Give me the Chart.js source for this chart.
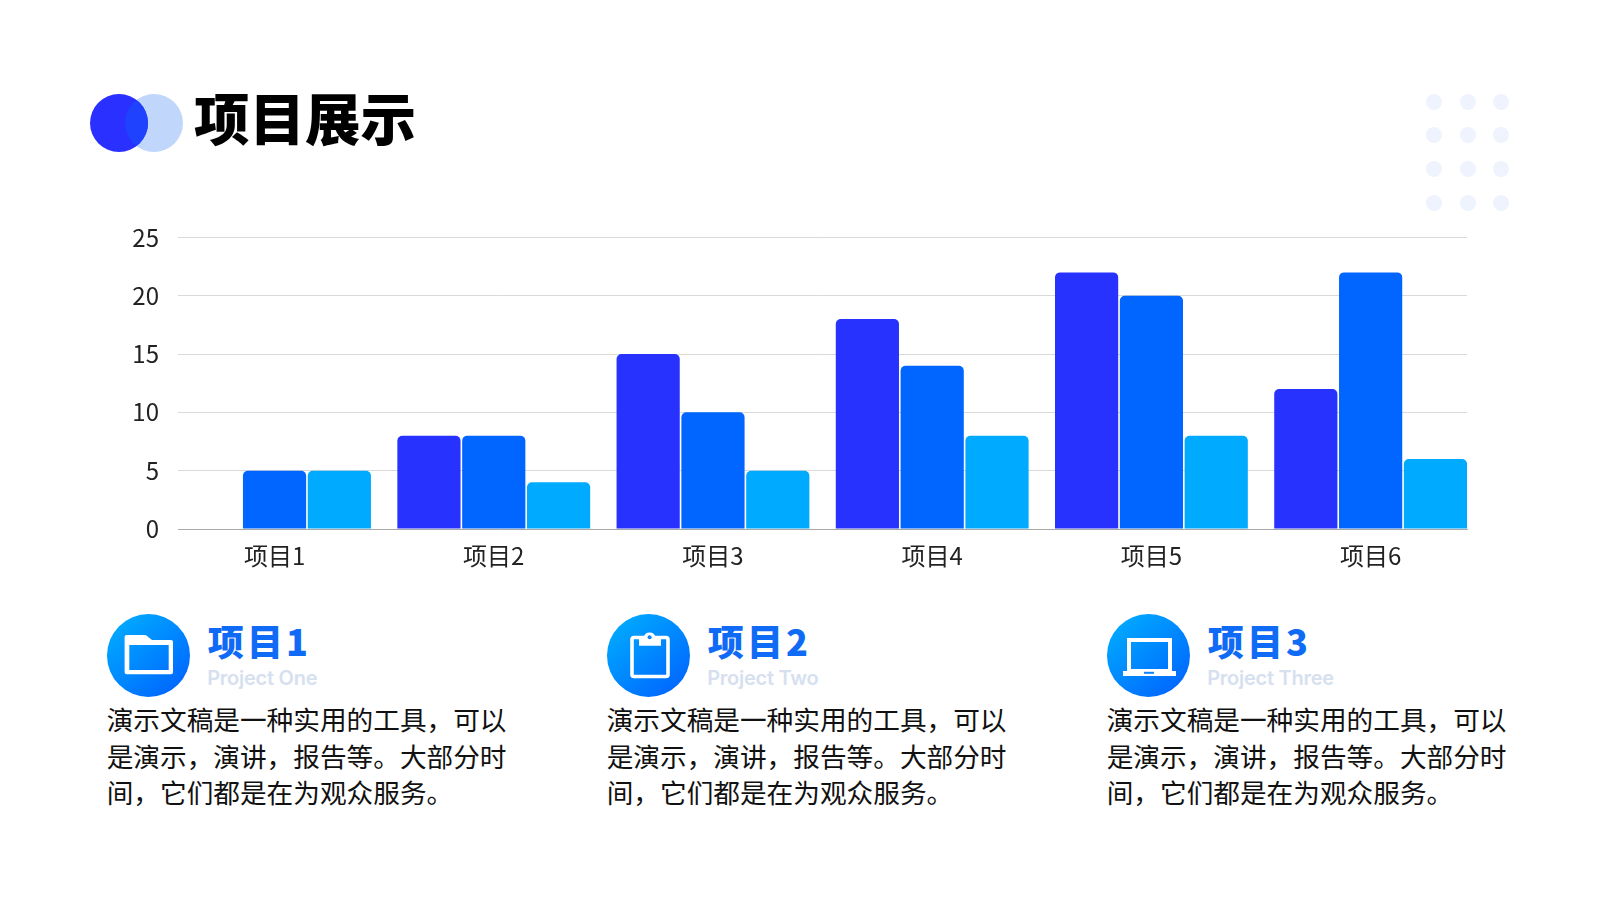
<!DOCTYPE html>
<html lang="zh">
<head>
<meta charset="utf-8">
<title>项目展示</title>
<script src="https://cdn.jsdelivr.net/npm/chart.js@4/dist/chart.umd.min.js"></script>
<style>
  html, body { margin: 0; padding: 0; background: #fff; }
  body { width: 1600px; height: 900px; position: relative; overflow: hidden; font-family: "Noto Sans CJK SC", sans-serif; }
  .abs { position: absolute; }
  .title { left: 194px; top: 78px; font-size: 55.5px; line-height: 76px; font-weight: 900; color: #000; white-space: nowrap; }
  .chart-wrap { left: 100px; top: 204px; width: 1400px; height: 396px; }
  .card { top: 614px; width: 420px; height: 220px; }
  .badge { left: 0; top: 0; width: 83px; height: 83px; }
  .card-title { left: 101px; top: 2px; font-size: 36px; line-height: 48px; font-weight: 900; letter-spacing: 3.2px; color: #0f6bf5; white-space: nowrap; }
  .card-sub { left: 100.5px; top: 50px; font-family: Inter, sans-serif; font-size: 20px; line-height: 28px; font-weight: 600; color: #d6e0ef; white-space: nowrap; letter-spacing: -0.25px; }
  .card-body { left: 0; top: 87px; font-size: 26.67px; line-height: 36.7px; color: #111; white-space: nowrap; }
</style>
</head>
<body>
<svg class="abs" style="left:0;top:0" width="1600" height="900">
  <defs><clipPath id="dark"><circle cx="119" cy="123" r="29"/></clipPath></defs>
  <circle cx="154" cy="123" r="29" fill="#c0d6fb"/>
  <circle cx="119" cy="123" r="29" fill="#2a30ff"/>
  <circle cx="154" cy="123" r="29" fill="#1f42ff" clip-path="url(#dark)"/>
  <g id="dots" fill="#eef3fd"></g>
</svg>
<div class="abs title">项目展示</div>
<div class="abs chart-wrap"><canvas id="chart"></canvas></div>
<div id="cards"></div>

<script>
// chart data
const categories = ['项目1', '项目2', '项目3', '项目4', '项目5', '项目6'];
const seriesA = [null, 8, 15, 18, 22, 12];
const seriesB = [5, 8, 10, 14, 20, 22];
const seriesC = [5, 4, 5, 8, 8, 6];
const colors = ['#2832ff', '#0066ff', '#00aaff'];

// text blocks under the chart
const cardTitles = ['项目1', '项目2', '项目3'];
const cardSubs = ['Project One', 'Project Two', 'Project Three'];
const cardLines = ['演示文稿是一种实用的工具，可以', '是演示，演讲，报告等。大部分时', '间，它们都是在为观众服务。'];

const icons = [
  '<path fill-rule="evenodd" fill="#fff" d="M17.6 23 a2 2 0 0 1 2-2 H38 a3 3 0 0 1 2 1 L45 26 H64 a2 2 0 0 1 2 2 V58.300 a2 2 0 0 1-2 2 H19.600 a2 2 0 0 1-2-2 Z M22.300 31 V56 H61.700 V31 Z"/>',
  '<rect x="25" y="23.500" width="36" height="39" rx="2" fill="none" stroke="#fff" stroke-width="3.6"/><path d="M32 23.500 V31.700 H54 V23.500 H48.500 a6 6 0 0 0-11.800 0 Z" fill="#fff"/><circle cx="42.600" cy="23.300" r="2" fill="#0a84ff"/>',
  '<rect x="22" y="26" width="41" height="31" fill="none" stroke="#fff" stroke-width="4"/><rect x="16" y="57" width="53" height="5" fill="#fff"/><rect x="37" y="57.800" width="10" height="2" fill="#0a84ff"/>'
];

// decoration dots, top right
const dotXs = [1434, 1468, 1501];
const dotYs = [102, 135, 169, 203];
document.getElementById('dots').innerHTML = dotYs.map(y =>
  dotXs.map(x => `<circle cx="${x}" cy="${y}" r="8"/>`).join('')).join('');

document.getElementById('cards').innerHTML = cardTitles.map((t, i) => `
  <div class="abs card" style="left:${106.7 + i * 500}px">
    <svg class="abs badge" viewBox="0 0 83 83">
      <defs><linearGradient id="g${i}" x1="0.15" y1="0.1" x2="0.85" y2="0.9">
        <stop offset="0" stop-color="#00a8ff"/><stop offset="1" stop-color="#0068ff"/>
      </linearGradient></defs>
      <circle cx="41.5" cy="41.5" r="41.5" fill="url(#g${i})"/>
      ${icons[i]}
    </svg>
    <div class="abs card-title">${t}</div>
    <div class="abs card-sub">${cardSubs[i]}</div>
    <div class="abs card-body">${cardLines.join('<br>')}</div>
  </div>`).join('');

const font = { family: "'Noto Sans CJK SC', sans-serif", size: 24 };

new Chart(document.getElementById('chart').getContext('2d'), {
  type: 'bar',
  data: {
    labels: categories,
    datasets: [seriesA, seriesB, seriesC].map((values, i) => ({
      data: values,
      backgroundColor: colors[i],
      borderRadius: { topLeft: 5, topRight: 5 },
      borderSkipped: 'bottom',
      categoryPercentage: 0.887,
      barPercentage: 0.975,
    })),
  },
  options: {
    responsive: true,
    maintainAspectRatio: false,
    animation: false,
    layout: { padding: { top: 21, right: 33, left: 0, bottom: 0 } },
    plugins: { legend: { display: false }, tooltip: { enabled: false } },
    scales: {
      x: {
        offset: false,
        // bars run edge to edge of the plot, so the outer half gaps are trimmed
        afterBuildTicks: (s) => { s._startValue = -0.4404; s._valueRange = 5.88; },
        afterFit: (s) => { s.height = 71; },
        grid: { display: false },
        border: { color: '#a8a8a8', width: 1 },
        ticks: { color: '#222', font, padding: 4, maxRotation: 0, autoSkip: false },
      },
      y: {
        min: 0,
        max: 25,
        afterFit: (s) => { s.width = 78; },
        grid: { color: '#d9d9d9', lineWidth: 1, drawTicks: false },
        border: { display: false },
        ticks: { color: '#222', font, stepSize: 5, padding: 19 },
      },
    },
  },
});
</script>
</body>
</html>
